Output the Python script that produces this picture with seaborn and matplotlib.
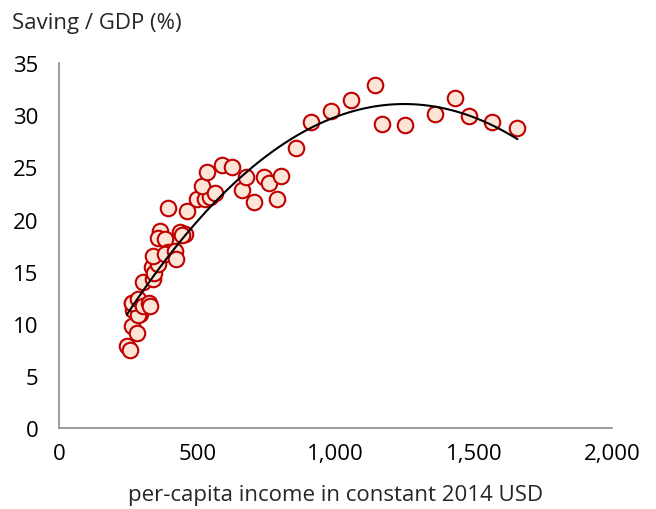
import matplotlib
matplotlib.use("Agg")
import matplotlib.pyplot as plt
import seaborn as sns
import pandas as pd
from matplotlib.ticker import FuncFormatter

# per-capita income (constant 2014 USD) and saving / GDP (%)
income = [245, 257, 263, 283, 263, 269, 293, 287, 263, 287, 305, 327, 329,
          305, 341, 335, 344, 359, 341, 365, 359, 383, 393, 395, 383, 420, 423,
          438, 456, 444, 464, 498, 528, 546, 518, 536, 564, 591, 627, 663, 675,
          705, 741, 761, 787, 802, 856, 913, 982, 1055, 1142, 1169, 1251, 1360,
          1431, 1484, 1565, 1658]
saving = [7.9, 7.5, 9.8, 9.1, 12.0, 11.3, 10.9, 10.8, 12.0, 12.4, 11.7, 12.0, 11.7,
          14.0, 14.3, 15.4, 14.9, 15.7, 16.5, 18.9, 18.2, 18.1, 21.1, 16.9, 16.7, 17.0, 16.2,
          18.8, 18.6, 18.5, 20.8, 22.0, 22.0, 22.2, 23.2, 24.6, 22.5, 25.2, 25.0, 22.8, 24.1,
          21.7, 24.1, 23.5, 22.0, 24.2, 26.9, 29.4, 30.4, 31.5, 32.9, 29.2, 29.1, 30.1,
          31.7, 29.9, 29.4, 28.8]

df = pd.DataFrame({"income": income, "saving": saving})

sns.set_style("white")
plt.rcParams["font.family"] = ["Open Sans", "DejaVu Sans"]

fig = plt.figure(figsize=(6.56, 5.10), dpi=100)
ax = fig.add_axes([0.09, 0.159, 0.843, 0.715])

sns.scatterplot(data=df, x="income", y="saving", s=125, color="#FCE4D6",
                edgecolor="#C00000", linewidth=1.5, ax=ax, zorder=3)

# polynomial (order 2) trend line, drawn over the markers
sns.regplot(data=df, x="income", y="saving", order=2, ci=None, scatter=False,
            truncate=True, color="black", line_kws={"linewidth": 1.5, "zorder": 4}, ax=ax)

ax.set_xlim(0, 2000)
ax.set_ylim(0, 35)
ax.set_xticks([0, 500, 1000, 1500, 2000])
ax.set_yticks(range(0, 36, 5))
ax.xaxis.set_major_formatter(FuncFormatter(lambda v, p: f"{int(v):,}"))

for side in ["top", "right"]:
    ax.spines[side].set_visible(False)
for side in ["left", "bottom"]:
    ax.spines[side].set_color("#8c8c8c")
    ax.spines[side].set_linewidth(1.2)

ax.tick_params(axis="both", which="major", direction="out", length=5, width=1.2,
               color="#8c8c8c", labelsize=16, labelcolor="black")
ax.tick_params(axis="y", pad=10)
ax.tick_params(axis="x", pad=6)
for coll in ax.collections:
    coll.set_clip_on(False)

ax.set_xlabel("per-capita income in constant 2014 USD", fontsize=16, labelpad=14)
ax.set_ylabel("")
fig.text(0.018, 0.975, "Saving / GDP (%)", fontsize=16, ha="left", va="top")

fig.savefig("out.png", dpi=100)
